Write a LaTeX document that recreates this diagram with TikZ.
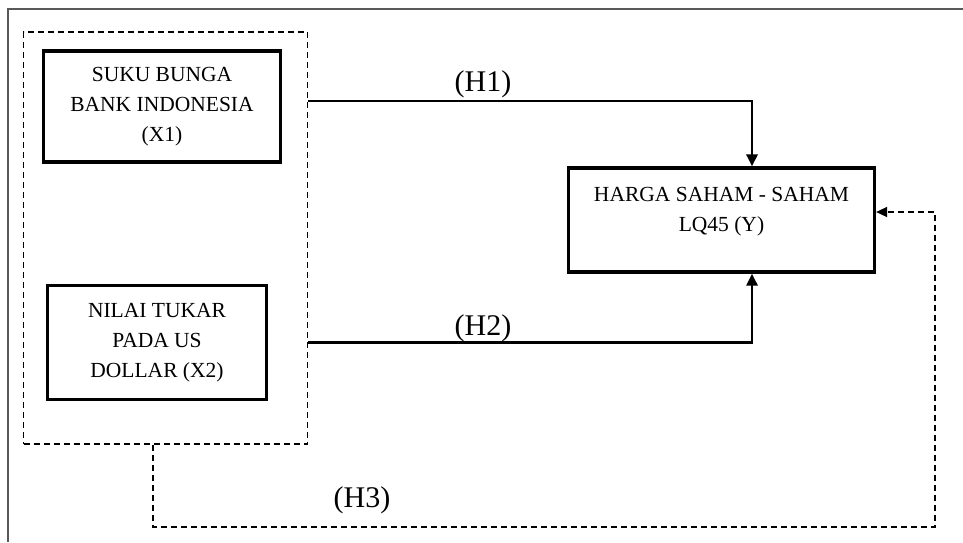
\documentclass[tikz,border=0pt]{standalone}
\usepackage{fontspec}
\setmainfont{Liberation Serif}
\usetikzlibrary{arrows.meta,positioning}

\begin{document}
\begin{tikzpicture}[
 x=1pt,y=-1pt,
 every node/.style={font=\fontsize{21.5}{30}\selectfont},
 var/.style={draw,line width=3.2pt,align=center,inner sep=0pt},
 grpbox/.style={draw,dash pattern=on 6pt off 4pt,line width=1.6pt,inner sep=0pt},
 lbl/.style={font=\fontsize{30}{32}\selectfont,inner sep=0pt},
 arr/.style={-{Triangle[length=12pt,width=11pt]},line width=2.8pt},
 dsh/.style={dash pattern=on 6pt off 4pt,line width=1.6pt,-{Triangle[length=11pt,width=10pt]}}
]
\useasboundingbox (0,0) rectangle (963,542);
\draw[gray!70!black,line width=2.2pt] (8,542) -- (8,9) -- (963,9);
\node[grpbox,minimum width=284pt,minimum height=412pt] (grp) at (165.5,238) {};
\node[var,minimum width=237pt,minimum height=111pt] (x1) at (162,106.5) {SUKU BUNGA\\BANK INDONESIA\\(X1)};
\node[var,minimum width=219pt,minimum height=114pt] (x2) at (157,342.5) {NILAI TUKAR\\PADA US\\DOLLAR (X2)};
\node[var,minimum width=306pt,minimum height=104pt,text depth=22pt] (y) at (721.5,220) {HARGA SAHAM - SAHAM\\LQ45 (Y)};
\coordinate (h3) at (935,527);
\draw[arr] ([yshift=5.5pt]grp.east |- x1.center) -| ([xshift=30.5pt]y.north);
\draw[arr] (grp.east |- x2.center) -| ([xshift=30.5pt]y.south);
\draw[dsh] ([xshift=-12.5pt]grp.south) |- (h3) |- ([yshift=8pt]y.east);
\node[lbl] (h1) at (483,84) {(H1)};
\node[lbl] (h2) at (483,328) {(H2)};
\node[lbl] (h3lbl) at (362,500) {(H3)};
\end{tikzpicture}
\end{document}
